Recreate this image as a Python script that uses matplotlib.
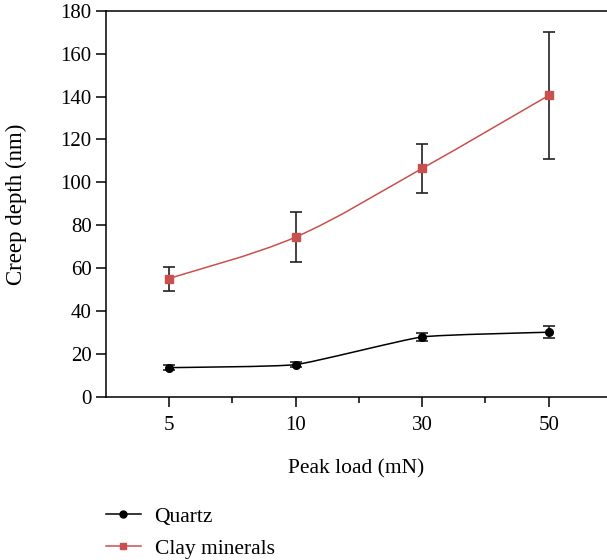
import numpy as np
import matplotlib
matplotlib.use('Agg')
import matplotlib.pyplot as plt
from matplotlib.path import Path
from matplotlib.patches import PathPatch
from matplotlib.lines import Line2D

plt.rcParams['font.family'] = ['Liberation Serif', 'DejaVu Serif']
plt.rcParams['font.size'] = 15

# data
loads = ['5', '10', '30', '50']
quartz = [13.7, 15.1, 28.0, 30.2]
quartz_err = [1.2, 1.0, 2.0, 2.8]
clay = [55.2, 74.5, 106.5, 140.5]
clay_err = [5.6, 11.7, 11.5, 29.5]

red = '#c9504e'


def smooth_path(x, y, k=6.0):
    # Catmull-Rom style spline converted to cubic Bezier segments
    x = np.asarray(x, float)
    y = np.asarray(y, float)
    pts = np.column_stack([x, y])
    verts = [pts[0]]
    codes = [Path.MOVETO]
    n = len(pts)
    for i in range(n - 1):
        p0 = pts[i - 1] if i > 0 else pts[i]
        p1 = pts[i]
        p2 = pts[i + 1]
        p3 = pts[i + 2] if i + 2 < n else pts[i + 1]
        c1 = p1 + (p2 - p0) / k
        c2 = p2 - (p3 - p1) / k
        verts += [c1, c2, p2]
        codes += [Path.CURVE4] * 3
    return Path(verts, codes)


fig = plt.figure(figsize=(6.07, 5.6), dpi=100)
ax = fig.add_axes([0.174, 0.291, 0.826, 0.690])

xs = np.arange(len(loads))

ax.add_patch(PathPatch(smooth_path(xs, quartz, k=14), facecolor='none',
                       edgecolor='black', lw=1.1, zorder=2))
ax.add_patch(PathPatch(smooth_path(xs, clay, k=6), facecolor='none',
                       edgecolor=red, lw=1.1, zorder=2))

ax.errorbar(xs, quartz, yerr=quartz_err, fmt='o', color='black', ms=5.5,
            ecolor='#222222', elinewidth=1.2, capsize=4, capthick=1.2, zorder=3)
ax.errorbar(xs, clay, yerr=clay_err, fmt='s', color=red, ms=5.5,
            ecolor='#222222', elinewidth=1.2, capsize=4, capthick=1.2, zorder=3)

ax.set_xlim(-0.5, 3.46)
ax.set_ylim(0, 180)
ax.set_xticks(xs)
ax.set_xticklabels(loads)
ax.set_xticks(xs[:-1] + 0.5, minor=True)
ax.set_yticks(np.arange(0, 181, 20))

ax.spines['right'].set_visible(False)
for s in ['left', 'bottom', 'top']:
    ax.spines[s].set_linewidth(1.1)
ax.tick_params(axis='both', which='major', direction='out', length=7, width=1.1,
               labelsize=15)
ax.tick_params(axis='x', which='major', pad=7)
ax.tick_params(axis='x', which='minor', direction='out', length=4, width=1.1)
ax.tick_params(axis='y', pad=3)

ax.set_ylabel('Creep depth (nm)', fontsize=16.5, labelpad=24)
ax.set_xlabel('Peak load (mN)', fontsize=15.5, labelpad=17)

handles = [
    Line2D([], [], color='black', marker='o', ms=5, lw=1.1),
    Line2D([], [], color=red, marker='s', ms=5, lw=1.1),
]
fig.legend(handles, ['Quartz', 'Clay minerals'], loc='upper left',
           bbox_to_anchor=(0.143, 0.13), frameon=False, handlelength=1.6,
           handletextpad=0.65, labelspacing=0.55, fontsize=15.5)

fig.savefig('out.png', dpi=100)
